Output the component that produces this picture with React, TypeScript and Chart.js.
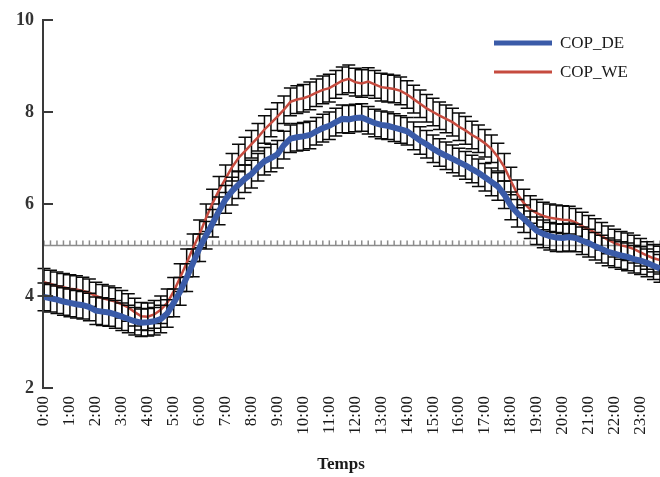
import React, { useEffect, useRef } from "react";
import { Chart, registerables } from "chart.js";

Chart.register(...registerables);

const hourLabels = [
  "0:00", "1:00", "2:00", "3:00", "4:00", "5:00", "6:00", "7:00",
  "8:00", "9:00", "10:00", "11:00", "12:00", "13:00", "14:00", "15:00",
  "16:00", "17:00", "18:00", "19:00", "20:00", "21:00", "22:00", "23:00",
];
const quarterSuffixes = ["00", "15", "30", "45"];

const copDE = [
  3.98, 3.95, 3.92, 3.88,
  3.85, 3.82, 3.8, 3.76,
  3.68, 3.66, 3.64, 3.6,
  3.55, 3.5, 3.45, 3.42,
  3.43, 3.45, 3.5, 3.62,
  3.85, 4.1, 4.4, 4.72,
  5.05, 5.32, 5.58, 5.85,
  6.1, 6.28, 6.42, 6.55,
  6.65, 6.8, 6.93, 7.0,
  7.08, 7.28, 7.42, 7.45,
  7.47, 7.5, 7.58, 7.65,
  7.7, 7.78, 7.85, 7.84,
  7.87, 7.88, 7.82, 7.76,
  7.72, 7.7, 7.66, 7.62,
  7.58, 7.48, 7.38, 7.3,
  7.2, 7.12, 7.05, 6.98,
  6.91, 6.84, 6.76, 6.68,
  6.58, 6.48, 6.38, 6.2,
  5.96, 5.8, 5.68, 5.55,
  5.42, 5.35, 5.3, 5.27,
  5.26, 5.28, 5.26, 5.2,
  5.15, 5.08, 5.02, 4.96,
  4.92, 4.88, 4.85, 4.8,
  4.77, 4.72, 4.66, 4.6,
];

const copWE = [
  4.3, 4.26, 4.22, 4.19,
  4.16, 4.14, 4.11, 4.07,
  4.0, 3.95, 3.92, 3.88,
  3.82, 3.75, 3.65, 3.56,
  3.55, 3.6, 3.7, 3.85,
  4.1, 4.4, 4.72, 5.05,
  5.35, 5.7, 6.02, 6.3,
  6.55, 6.8, 7.0, 7.15,
  7.3, 7.45, 7.62, 7.76,
  7.9, 8.05, 8.22, 8.27,
  8.3, 8.35, 8.42, 8.48,
  8.52, 8.6, 8.68, 8.72,
  8.65, 8.62, 8.66, 8.6,
  8.54, 8.52, 8.5, 8.46,
  8.38, 8.28, 8.18, 8.08,
  8.0, 7.92, 7.85, 7.78,
  7.68, 7.6, 7.5, 7.42,
  7.32, 7.2, 7.02, 6.8,
  6.5, 6.22, 6.02, 5.88,
  5.8, 5.74, 5.7, 5.68,
  5.66, 5.65, 5.6, 5.52,
  5.45, 5.38, 5.3, 5.22,
  5.15, 5.1, 5.07, 5.02,
  4.95, 4.88, 4.82, 4.78,
];

const errDE = 0.3;
const errWE = 0.3;
const thresholdValue = 5.1;
const yTicks = [2, 4, 6, 8, 10];

const times: string[] = [];
hourLabels.forEach((h) => {
  const hh = h.split(":")[0];
  quarterSuffixes.forEach((q) => times.push(hh + ":" + q));
});

const BLUE = "#3a5ba8";
const RED = "#c64b3f";
const SERIF = "'Liberation Serif', 'Times New Roman', serif";

const errors: Record<number, number> = { 0: errDE, 1: errWE };

const customPlugin = {
  id: "custom",
  beforeDatasetDraw(chart: any, args: any) {
    const idx = args.index;
    const ctx = chart.ctx;
    const y = chart.scales.y;
    const meta = chart.getDatasetMeta(idx);
    const data = chart.data.datasets[idx].data as number[];
    ctx.save();
    if (idx === 2) {
      ctx.strokeStyle = "#8c8c8c";
      ctx.lineWidth = 1.5;
      meta.data.forEach((pt: any) => {
        ctx.beginPath();
        ctx.moveTo(pt.x, pt.y);
        ctx.lineTo(pt.x, pt.y - 5);
        ctx.stroke();
      });
    } else {
      const e = errors[idx];
      ctx.strokeStyle = "#0a0a0a";
      ctx.lineWidth = 1.5;
      meta.data.forEach((pt: any, i: number) => {
        const v = data[i];
        const top = y.getPixelForValue(v + e);
        const bot = y.getPixelForValue(v - e);
        ctx.beginPath();
        ctx.moveTo(pt.x, top);
        ctx.lineTo(pt.x, bot);
        ctx.moveTo(pt.x - 6.5, top);
        ctx.lineTo(pt.x + 6.5, top);
        ctx.moveTo(pt.x - 6.5, bot);
        ctx.lineTo(pt.x + 6.5, bot);
        ctx.stroke();
      });
    }
    ctx.restore();
  },
  afterDraw(chart: any) {
    const ctx = chart.ctx;
    const area = chart.chartArea;
    const y = chart.scales.y;
    ctx.save();
    ctx.strokeStyle = "#3a3a3a";
    ctx.lineWidth = 2;
    const ax = area.left - 1;
    ctx.beginPath();
    ctx.moveTo(ax, y.getPixelForValue(10) - 1);
    ctx.lineTo(ax, y.getPixelForValue(2) + 1);
    ctx.stroke();
    yTicks.forEach((t) => {
      const py = y.getPixelForValue(t);
      ctx.beginPath();
      ctx.moveTo(ax, py);
      ctx.lineTo(ax + 10, py);
      ctx.stroke();
    });
    ctx.lineCap = "butt";
    ctx.strokeStyle = BLUE;
    ctx.lineWidth = 5;
    ctx.beginPath();
    ctx.moveTo(494, 43);
    ctx.lineTo(552, 43);
    ctx.stroke();
    ctx.strokeStyle = RED;
    ctx.lineWidth = 3;
    ctx.beginPath();
    ctx.moveTo(494, 72);
    ctx.lineTo(552, 72);
    ctx.stroke();
    ctx.fillStyle = "#1a1a1a";
    ctx.font = "17px " + SERIF;
    ctx.textAlign = "left";
    ctx.textBaseline = "middle";
    ctx.fillText("COP_DE", 560, 44);
    ctx.fillText("COP_WE", 560, 73);
    ctx.font = "bold 17px " + SERIF;
    ctx.textAlign = "center";
    ctx.fillText("Temps", 341, 465);
    ctx.restore();
  },
};

export default function App() {
  const canvasRef = useRef<HTMLCanvasElement | null>(null);

  useEffect(() => {
    if (!canvasRef.current) return;
    const chart = new Chart(canvasRef.current, {
      type: "line",
      data: {
        labels: times,
        datasets: [
          {
            label: "COP_DE",
            data: copDE,
            borderColor: BLUE,
            borderWidth: 6,
            pointRadius: 0,
            tension: 0,
          },
          {
            label: "COP_WE",
            data: copWE,
            borderColor: RED,
            borderWidth: 2.5,
            pointRadius: 0,
            tension: 0,
          },
          {
            label: "threshold",
            data: times.map(() => thresholdValue),
            borderColor: "#8c8c8c",
            borderWidth: 1.5,
            pointRadius: 0,
            tension: 0,
          },
        ],
      },
      options: {
        animation: false,
        responsive: true,
        maintainAspectRatio: false,
        layout: { padding: { top: 20, left: 0, right: 0, bottom: 0 } },
        plugins: {
          legend: { display: false },
          tooltip: { enabled: false },
        },
        scales: {
          x: {
            type: "category",
            offset: false,
            grid: { display: false, drawTicks: false },
            border: { display: false },
            ticks: {
              autoSkip: false,
              maxRotation: 90,
              minRotation: 90,
              padding: 8,
              color: "#1a1a1a",
              font: { family: SERIF, size: 17 },
              callback: (_v: any, i: number) => (i % 4 === 0 ? times[i] : ""),
            },
            afterFit: (s: any) => {
              s.height = 89;
              s.paddingLeft = 0;
              s.paddingRight = 0;
            },
          },
          y: {
            min: 2,
            max: 10,
            grid: { display: false, drawTicks: false },
            border: { display: false },
            ticks: {
              stepSize: 2,
              padding: 10,
              color: "#333",
              font: { family: SERIF, size: 18, weight: "bold" },
            },
            afterFit: (s: any) => {
              s.width = 44;
              s.paddingTop = 0;
              s.paddingBottom = 0;
            },
          },
        },
      },
      plugins: [customPlugin],
    });
    return () => chart.destroy();
  }, []);

  return (
    <div style={{ position: "fixed", left: 0, top: 0, width: 660, height: 477, background: "#fff" }}>
      <canvas ref={canvasRef} />
    </div>
  );
}
